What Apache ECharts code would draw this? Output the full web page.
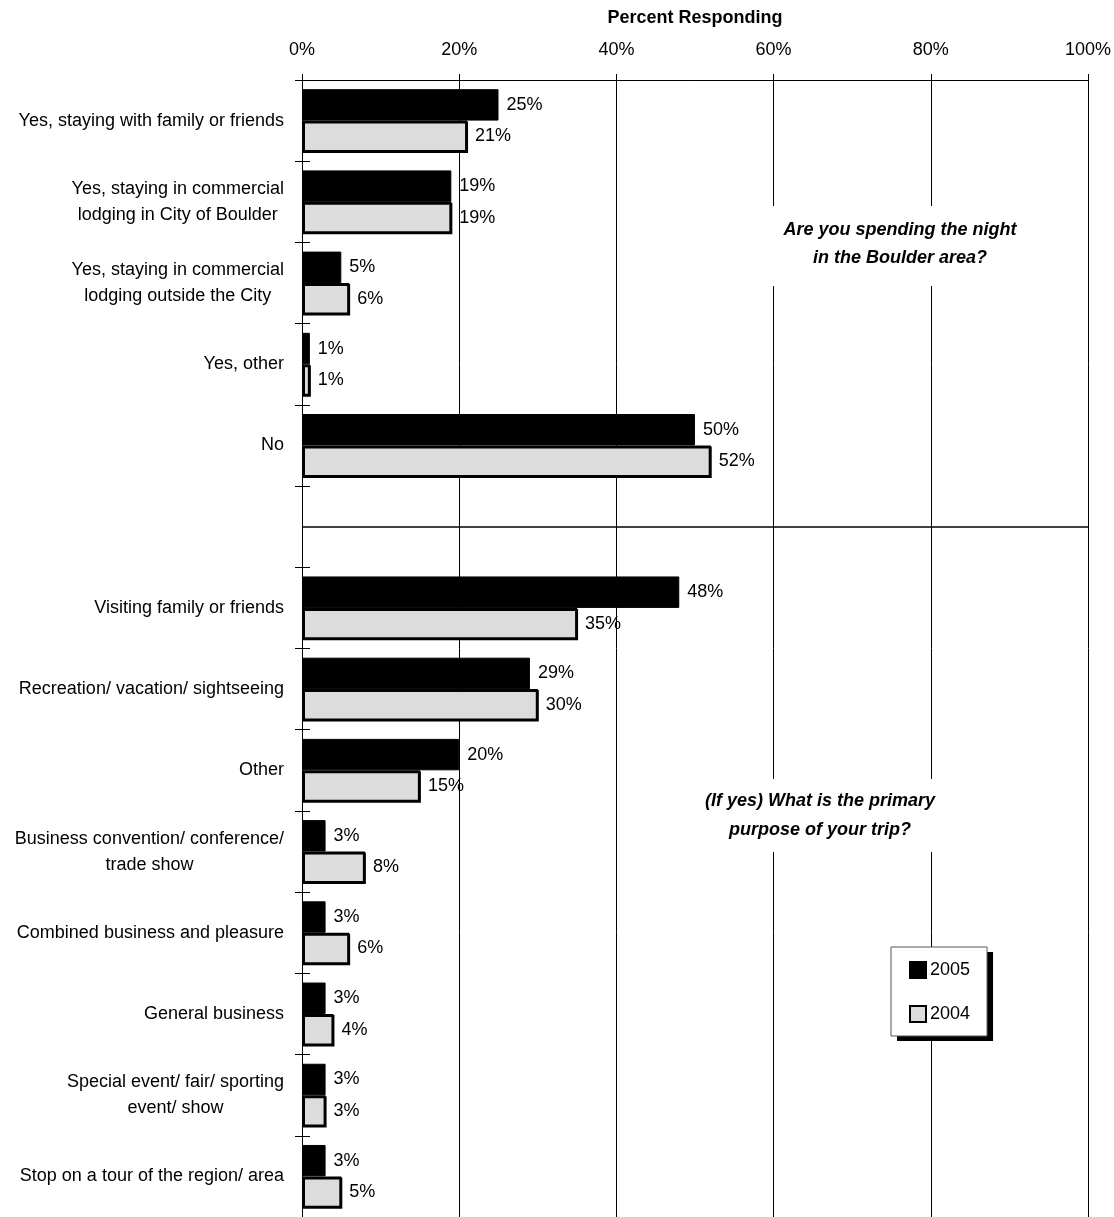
<!DOCTYPE html>
<html>
<head>
<meta charset="utf-8">
<title>Percent Responding</title>
<script src="https://cdn.jsdelivr.net/npm/echarts@6/dist/echarts.min.js"></script>
<style>
  html, body { margin: 0; padding: 0; background: #fff; }
  #chart { width: 1114px; height: 1217px; }
</style>
</head>
<body>
<div id="chart"></div>
<script>
// Survey categories, top to bottom; the blank row separates the two questions
const categories = [
  'Yes, staying with family or friends',
  'Yes, staying in commercial\nlodging in City of Boulder',
  'Yes, staying in commercial\nlodging outside the City',
  'Yes, other',
  'No',
  ' ',
  'Visiting family or friends',
  'Recreation/ vacation/ sightseeing',
  'Other',
  'Business convention/ conference/\ntrade show',
  'Combined business and pleasure',
  'General business',
  'Special event/ fair/ sporting\nevent/ show',
  'Stop on a tour of the region/ area'
];
const values2005 = [25, 19, 5, 1, 50, '-', 48, 29, 20, 3, 3, 3, 3, 3];
const values2004 = [21, 19, 6, 1, 52, '-', 35, 30, 15, 8, 6, 4, 3, 5];
const xTicks = [0, 20, 40, 60, 80, 100];
const seriesNames = ['2005', '2004'];
const separatorRow = ' ';

const FONT = "'Liberation Sans', Arial, sans-serif";
const chart = echarts.init(document.getElementById('chart'), null, { renderer: 'canvas' });

// Multi-line category labels: block right-aligned to the axis, lines centred within it
const centeredLabel = (text) => text.split('\n').map(l => '{c|' + l + '}').join('\n');

// Shared legend layout; one copy paints the shadowed white panel, the other the frame and items
const legendBase = {
  data: seriesNames,
  orient: 'vertical',
  left: 891, top: 947,
  padding: [14, 17, 13, 18],
  itemGap: 26,
  itemWidth: 16, itemHeight: 16,
  icon: 'rect',
  selectedMode: false
};

chart.setOption({
  animation: false,
  backgroundColor: '#fff',
  textStyle: { fontFamily: FONT, color: '#000' },
  title: [
    {
      text: 'Are you spending the night\nin the Boulder area?',
      left: 886, top: 206, textAlign: 'center',
      backgroundColor: '#fff', padding: [10, 14, 14, 14],
      textStyle: { fontFamily: FONT, fontSize: 18, fontWeight: 'bold', fontStyle: 'italic', color: '#000', lineHeight: 28 }
    },
    {
      text: '(If yes) What is the primary\npurpose of your trip?',
      left: 810, top: 779, textAlign: 'center',
      backgroundColor: '#fff', padding: [8, 10, 7, 10],
      textStyle: { fontFamily: FONT, fontSize: 18, fontWeight: 'bold', fontStyle: 'italic', color: '#000', lineHeight: 29 }
    }
  ],
  legend: [
    Object.assign({}, legendBase, {
      backgroundColor: '#fff',
      borderWidth: 0,
      shadowColor: '#000', shadowBlur: 0, shadowOffsetX: 6, shadowOffsetY: 5,
      itemStyle: { color: 'rgba(0,0,0,0)', borderColor: 'rgba(0,0,0,0)', borderWidth: 0, shadowColor: 'rgba(0,0,0,0)' },
      textStyle: { fontFamily: FONT, fontSize: 18, color: 'rgba(0,0,0,0)' }
    }),
    Object.assign({}, legendBase, {
      backgroundColor: 'rgba(0,0,0,0)',
      borderColor: '#555', borderWidth: 1,
      textStyle: { fontFamily: FONT, fontSize: 18, color: '#000', padding: [0, 0, 0, -1] }
    })
  ],
  grid: { left: 302, right: 26, top: 80, height: 1140, containLabel: false },
  xAxis: {
    type: 'value',
    position: 'top',
    min: xTicks[0], max: xTicks[xTicks.length - 1], interval: xTicks[1] - xTicks[0],
    name: 'Percent Responding',
    nameLocation: 'middle', nameGap: 53,
    nameTextStyle: { fontFamily: FONT, fontSize: 18, fontWeight: 'bold', color: '#000' },
    axisLine: { show: true, lineStyle: { color: '#000', width: 1 } },
    axisTick: { show: true, length: 6, lineStyle: { color: '#000' } },
    axisLabel: { formatter: '{value}%', fontFamily: FONT, fontSize: 18, color: '#000', margin: 21 },
    splitLine: { show: true, lineStyle: { color: '#000', width: 1 } }
  },
  yAxis: [
    {
      type: 'category',
      data: categories,
      inverse: true,
      axisLine: { show: true, lineStyle: { color: '#000', width: 1 } },
      axisTick: { show: true, length: 7, lineStyle: { color: '#000' } },
      axisLabel: {
        fontFamily: FONT, fontSize: 18, color: '#000', margin: 18,
        formatter: centeredLabel,
        rich: { c: { align: 'center', fontFamily: FONT, fontSize: 18, color: '#000', lineHeight: 26 } }
      },
      splitLine: { show: false }
    },
    {
      type: 'category',
      data: categories,
      inverse: true,
      position: 'left',
      axisLine: { show: false },
      axisTick: { show: true, inside: true, length: 8, lineStyle: { color: '#000' } },
      axisLabel: { show: false },
      splitLine: { show: false }
    }
  ],
  series: [
    {
      name: seriesNames[0],
      type: 'bar',
      data: values2005,
      barCategoryGap: '22.6%',
      barGap: '0%',
      itemStyle: { color: '#000', borderColor: '#000', borderWidth: 1 },
      label: { show: true, position: 'right', distance: 8, formatter: '{c}%', fontFamily: FONT, fontSize: 18, color: '#000' }
    },
    {
      name: seriesNames[1],
      type: 'bar',
      data: values2004,
      barCategoryGap: '22.6%',
      barGap: '0%',
      itemStyle: {
        color: '#dcdcdc', borderColor: '#000', borderWidth: 2,
        shadowColor: '#000', shadowBlur: 0, shadowOffsetX: 1, shadowOffsetY: 1
      },
      label: { show: true, position: 'right', distance: 8, formatter: '{c}%', fontFamily: FONT, fontSize: 18, color: '#000' }
    },
    {
      // Divider between the two questions, drawn across the blank row
      name: 'divider',
      type: 'line',
      data: [],
      silent: true,
      markLine: {
        silent: true, symbol: 'none',
        label: { show: false },
        lineStyle: { color: '#000', type: 'solid', width: 1.5 },
        data: [{ yAxis: separatorRow }]
      }
    }
  ]
});
</script>
</body>
</html>
